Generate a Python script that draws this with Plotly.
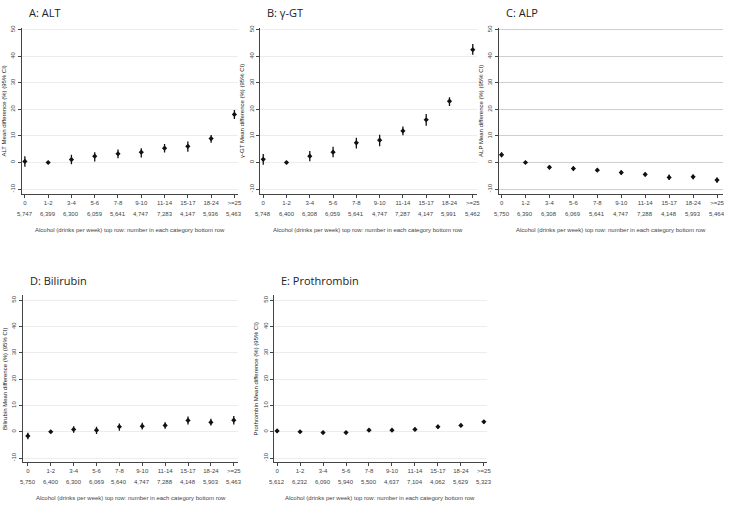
import plotly.graph_objects as go

W, H = 730, 505

categories = ["0", "1-2", "3-4", "5-6", "7-8", "9-10", "11-14", "15-17", "18-24", ">=25"]

alt_est = [0.4, 0.0, 1.1, 2.4, 3.3, 3.9, 5.4, 6.1, 9.0, 18.1]
alt_lo = [-1.6, 0.0, -0.7, 0.4, 1.6, 1.9, 3.8, 4.1, 7.4, 16.4]
alt_hi = [2.4, 0.0, 2.9, 3.9, 4.9, 5.4, 7.0, 7.9, 10.4, 19.8]
alt_n = ["5,747", "6,399", "6,300", "6,059", "5,641", "4,747", "7,283", "4,147", "5,936", "5,463"]

ggt_est = [1.2, 0.0, 2.4, 3.9, 7.4, 8.4, 11.9, 16.1, 23.1, 42.5]
ggt_lo = [-0.8, 0.0, 0.5, 2.0, 5.3, 6.1, 10.3, 13.8, 21.3, 40.6]
ggt_hi = [3.2, 0.0, 4.3, 5.9, 9.3, 10.5, 13.6, 18.3, 24.6, 44.6]
ggt_n = ["5,748", "6,400", "6,308", "6,059", "5,641", "4,747", "7,287", "4,147", "5,991", "5,462"]

alp_est = [2.9, 0.0, -1.8, -2.3, -2.9, -3.8, -4.5, -5.6, -5.4, -6.6]
alp_lo = [2.0, 0.0, -2.5, -3.1, -3.6, -4.6, -5.3, -6.6, -6.3, -7.6]
alp_hi = [3.9, 0.0, -1.0, -1.4, -2.2, -2.9, -3.8, -4.5, -4.5, -5.6]
alp_n = ["5,750", "6,390", "6,308", "6,069", "5,641", "4,747", "7,288", "4,148", "5,993", "5,464"]

bil_est = [-1.6, 0.0, 0.9, 0.6, 1.9, 2.1, 2.4, 4.3, 3.6, 4.4]
bil_lo = [-2.9, 0.0, -0.4, -0.9, 0.4, 0.9, 1.1, 2.8, 2.4, 2.8]
bil_hi = [-0.4, 0.0, 2.1, 1.9, 3.1, 3.4, 3.6, 5.8, 4.9, 6.0]
bil_n = ["5,750", "6,400", "6,300", "6,069", "5,640", "4,747", "7,288", "4,148", "5,903", "5,463"]

pro_est = [0.3, 0.0, -0.3, -0.3, 0.6, 0.6, 0.9, 1.9, 2.4, 3.8]
pro_lo = [-0.4, 0.0, -0.9, -0.9, 0.0, 0.0, 0.3, 1.1, 1.8, 3.0]
pro_hi = [0.9, 0.0, 0.3, 0.3, 1.2, 1.2, 1.5, 2.7, 3.0, 4.5]
pro_n = ["5,612", "6,232", "6,090", "5,940", "5,500", "4,637", "7,104", "4,062", "5,629", "5,323"]

y_ticks = [-10, 0, 10, 20, 30, 40, 50]
x_title = "Alcohol (drinks per week) top row: number in each category bottom row"

panels = [
    dict(title="A: ALT", ytitle="ALT Mean difference (%) (95% CI)", est=alt_est, lo=alt_lo, hi=alt_hi, n=alt_n,
         x0=22, x1=240, xr=[-0.13, 9.17], y0=25, y1=192, yr=[-11.8, 50.7], grid="#ececec"),
    dict(title="B: γ-GT", ytitle="γ-GT Mean difference (%) (95% CI)", est=ggt_est, lo=ggt_lo, hi=ggt_hi, n=ggt_n,
         x0=262, x1=480, xr=[-0.13, 9.17], y0=25, y1=192, yr=[-11.8, 50.7], grid="#ececec"),
    dict(title="C: ALP", ytitle="ALP Mean difference (%) (95% CI)", est=alp_est, lo=alp_lo, hi=alp_hi, n=alp_n,
         x0=502, x1=728, xr=[-0.125, 9.25], y0=25, y1=192, yr=[-11.8, 50.7], grid="#cfcfcf"),
    dict(title="D: Bilirubin", ytitle="Bilirubin Mean difference (%) (95% CI)", est=bil_est, lo=bil_lo, hi=bil_hi, n=bil_n,
         x0=23, x1=240, xr=[-0.22, 9.2], y0=294, y1=462, yr=[-11.6, 51.9], grid="#ececec"),
    dict(title="E: Prothrombin", ytitle="Prothrombin Mean difference (%) (95% CI)", est=pro_est, lo=pro_lo, hi=pro_hi, n=pro_n,
         x0=276, x1=490, xr=[-0.13, 9.12], y0=294, y1=462, yr=[-11.6, 51.9], grid="#ececec"),
]

fig = go.Figure()
annotations = []
font_small = "Liberation Sans, Arial, sans-serif"

for i, p in enumerate(panels):
    k = "" if i == 0 else str(i + 1)
    xa, ya = "x" + k, "y" + k
    xs = list(range(len(categories)))
    plus = [h - e for h, e in zip(p["hi"], p["est"])]
    minus = [e - l for e, l in zip(p["est"], p["lo"])]
    fig.add_trace(go.Scatter(
        x=xs, y=p["est"], mode="markers", xaxis=xa, yaxis=ya, showlegend=False,
        cliponaxis=False,
        marker=dict(symbol="diamond", size=4, color="#111111"),
        error_y=dict(type="data", array=plus, arrayminus=minus, visible=True,
                     width=0, thickness=1.3, color="#111111"),
    ))
    dom_x = [p["x0"] / W, p["x1"] / W]
    dom_y = [1 - p["y1"] / H, 1 - p["y0"] / H]
    fig.layout["xaxis" + k] = dict(
        domain=dom_x, range=p["xr"], anchor=ya, tickvals=xs, ticktext=categories,
        tickangle=0, ticks="outside", ticklen=3, tickwidth=1, tickcolor="#444",
        showline=True, linecolor="#444", linewidth=1, showgrid=False, zeroline=False,
        tickfont=dict(size=6, color="#444", family=font_small),
    )
    fig.layout["yaxis" + k] = dict(
        domain=dom_y, range=p["yr"], anchor=xa, tickvals=y_ticks, ticktext=[str(t) for t in y_ticks],
        tickangle=-90, ticks="outside", ticklen=3, tickwidth=1, tickcolor="#444",
        showline=True, linecolor="#444", linewidth=1, showgrid=True, gridcolor=p["grid"],
        gridwidth=1, zeroline=False,
        tickfont=dict(size=6, color="#444", family=font_small),
        title=dict(text=p["ytitle"], font=dict(size=6, color="#222", family=font_small), standoff=3),
    )
    annotations.append(dict(text=p["title"], xref="paper", yref="paper",
                            x=(p["x0"] + 5) / W, y=1 - (p["y0"] - 15) / H,
                            xanchor="left", yanchor="middle", showarrow=False,
                            font=dict(size=11, color="#222", family="Open Sans, sans-serif")))
    for xi, n in zip(xs, p["n"]):
        annotations.append(dict(text=n, xref=xa, yref="paper", x=xi, y=1 - (p["y1"] + 20) / H,
                                xanchor="center", yanchor="middle", showarrow=False,
                                font=dict(size=6, color="#444", family=font_small)))
    annotations.append(dict(text=x_title, xref="paper", yref="paper",
                            x=((p["x0"] + p["x1"]) / 2) / W, y=1 - (p["y1"] + 36) / H,
                            xanchor="center", yanchor="middle", showarrow=False,
                            font=dict(size=6, color="#444", family=font_small)))

fig.update_layout(
    width=W, height=H, margin=dict(l=0, r=0, t=0, b=0),
    paper_bgcolor="white", plot_bgcolor="white",
    annotations=annotations,
)

fig.write_html("out.html", config={"displayModeBar": False},
               post_script="document.body.style.margin='0px';document.body.style.overflow='hidden';")
